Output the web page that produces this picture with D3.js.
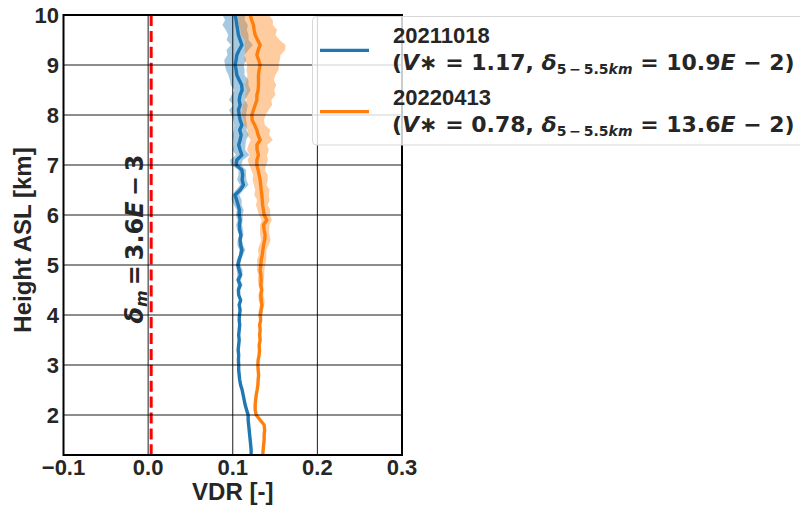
<!DOCTYPE html>
<html><head><meta charset="utf-8">
<script src="https://cdn.jsdelivr.net/npm/d3@7"></script>
<style>body{margin:0;background:#fff}svg{display:block}</style>
</head><body>
<script>
// ---------------- DATA ----------------
const heights = [1.2,1.3,1.4,1.5,1.6,1.7,1.8,1.9,2.0,2.1,
 2.2,2.3,2.4,2.5,2.6,2.7,2.8,2.9,3.0,3.1,
 3.2,3.3,3.4,3.5,3.6,3.7,3.8,3.9,4.0,4.1,
 4.2,4.3,4.4,4.5,4.6,4.7,4.8,4.9,5.0,5.1,
 5.2,5.3,5.4,5.5,5.6,5.7,5.8,5.9,6.0,6.1,
 6.2,6.3,6.4,6.5,6.6,6.7,6.8,6.9,7.0,7.1,
 7.2,7.3,7.4,7.5,7.6,7.7,7.8,7.9,8.0,8.1,
 8.2,8.3,8.4,8.5,8.6,8.7,8.8,8.9,9.0,9.1,
 9.2,9.3,9.4,9.5,9.6,9.7,9.8,9.9,10.0];

const seriesNames = ["20211018", "20220413"];
const vStar = ["1.17", "0.78"];
const delta55 = ["10.9", "13.6"];
const deltaM = "3.6";
const deltaMValue = 0.0036;

const vdr20211018 = [.1217,.1217,.1212,.1206,.1200,.1194,.1188,.1182,.1182,.1164,
 .1147,.1135,.1123,.1111,.1093,.1082,.1076,.1070,.1070,.1067,
 .1070,.1064,.1070,.1076,.1070,.1076,.1082,.1076,.1079,.1087,
 .1076,.1093,.1070,.1067,.1087,.1064,.1093,.1076,.1060,.1076,
 .1093,.1108,.1093,.1087,.1096,.1082,.1079,.1087,.1076,.1079,
 .1064,.1046,.1028,.1087,.1126,.1111,.1117,.1108,.1040,.1048,
 .1108,.1087,.1070,.1087,.1099,.1082,.1108,.1087,.1076,.1067,
 .1087,.1076,.1087,.1111,.1105,.1076,.1048,.1040,.1028,.1040,
 .1048,.1076,.1108,.1087,.1067,.1058,.1048,.1040,.1028];
const lo20211018 = [.001,.001,.001,.001,.001,.001,.001,.001,.001,.001,
 .001,.001,.001,.001,.001,.001,.001,.001,.001,.001,
 .001,.001,.001,.001,.001,.001,.001,.001,.001,.001,
 .001,.001,.001,
 .002,.003,.002,.004,.003,.002,.003,.002,.003,.004,.003,.002,.003,.004,.003,
 .004,.003,.005,.006,.004,.005,.004,.006,.005,.004,
 .006,.008,.007,.009,.006,.008,.010,.007,.009,.008,
 .009,.011,.008,.012,.010,.009,.013,.011,.010,.012,
 .012,.014,.011,.015,.013,.016,.012,.014,.017,.013,.015];
const hi20211018 = [.001,.001,.001,.001,.001,.001,.001,.001,.001,.001,
 .001,.001,.001,.001,.001,.001,.001,.001,.001,.001,
 .001,.001,.001,.001,.001,.001,.001,.001,.001,.001,
 .001,.001,.001,
 .002,.003,.003,.002,.004,.003,.002,.003,.004,.003,.002,.003,.004,.003,.003,
 .004,.005,.004,.006,.005,.004,.006,.005,.004,.005,
 .006,.007,.009,.006,.008,.007,.009,.008,.006,.007,
 .008,.010,.009,.007,.009,.010,.008,.011,.009,.010,
 .010,.012,.009,.011,.013,.010,.012,.011,.013,.010,.012];

const vdr20220413 = [.1356,.1359,.1365,.1371,.1371,.1377,.1371,.1324,.1277,.1265,
 .1265,.1271,.1277,.1288,.1297,.1300,.1306,.1300,.1297,.1300,
 .1312,.1316,.1312,.1324,.1318,.1324,.1318,.1330,.1324,.1336,
 .1344,.1336,.1332,.1342,.1332,.1336,.1332,.1324,.1332,.1336,
 .1348,.1356,.1365,.1377,.1383,.1371,.1363,.1403,.1371,.1363,
 .1353,.1348,.1344,.1336,.1330,.1324,.1312,.1300,.1285,.1285,
 .1304,.1288,.1285,.1324,.1300,.1285,.1259,.1229,.1226,.1245,
 .1265,.1285,.1285,.1300,.1304,.1304,.1304,.1312,.1324,.1306,
 .1285,.1300,.1324,.1294,.1265,.1253,.1245,.1223,.1206];
const lo20220413 = [.001,.001,.001,.001,.001,.001,.001,.001,.001,.001,
 .001,.001,.001,.001,.001,.001,.001,.001,.001,.001,
 .001,.001,.001,.001,.001,.001,.001,.001,
 .002,.003,.002,.003,.003,.002,.003,.004,.003,.004,
 .004,.005,.004,.006,.005,.004,.006,.005,.004,.006,
 .006,.007,.008,.006,.009,.007,.008,.009,.007,.008,
 .009,.011,.010,.012,.010,.011,.013,.011,.012,.010,
 .012,.013,.015,.012,.014,.013,.016,.014,.013,.015,
 .015,.017,.014,.016,.018,.015,.017,.016,.018,.015,.016];
const hi20220413 = [.001,.001,.001,.001,.001,.001,.001,.001,.001,.001,
 .001,.001,.001,.001,.001,.001,.001,.001,.001,.001,
 .001,.001,.001,.001,.001,.001,.001,.001,
 .003,.002,.003,.004,.003,.002,.003,.003,.004,.005,
 .005,.006,.005,.004,.006,.007,.005,.006,.007,.006,
 .007,.008,.006,.009,.008,.010,.007,.009,.010,.008,
 .011,.013,.010,.014,.012,.015,.013,.016,.012,.014,
 .016,.018,.020,.017,.022,.019,.021,.018,.020,.023,
 .022,.025,.028,.032,.030,.026,.024,.027,.023,.025,.022];

const xTicks = [-0.1, 0.0, 0.1, 0.2, 0.3];
const xTickLabels = ["\u22120.1", "0.0", "0.1", "0.2", "0.3"];
const yTicks = [2, 3, 4, 5, 6, 7, 8, 9, 10];
const yTickLabels = ["2", "3", "4", "5", "6", "7", "8", "9", "10"];
const colors = ["#1f77b4", "#ff7f0e"];

// ---------------- CHART ----------------
const W = 800, H = 506;
const m = {left: 63.5, right: 402, top: 15, bottom: 455};
const svg = d3.select("body").append("svg").attr("width", W).attr("height", H);

const x = d3.scaleLinear().domain([-0.1, 0.3]).range([m.left, m.right]);
const y = d3.scaleLinear().domain([1.2, 10]).range([m.bottom, m.top]);

const series = [
  {name: seriesNames[0], v: vdr20211018, lo: lo20211018, hi: hi20211018, c: colors[0]},
  {name: seriesNames[1], v: vdr20220413, lo: lo20220413, hi: hi20220413, c: colors[1]}
];

svg.append("defs").append("clipPath").attr("id", "clip")
  .append("rect").attr("x", m.left).attr("y", m.top)
  .attr("width", m.right - m.left).attr("height", m.bottom - m.top);

const plot = svg.append("g").attr("clip-path", "url(#clip)");

// bands
series.forEach(s => {
  const area = d3.area()
    .y((d, i) => y(heights[i]))
    .x0((d, i) => x(s.v[i] - s.lo[i]))
    .x1((d, i) => x(s.v[i] + s.hi[i]));
  plot.append("path").datum(heights).attr("d", area)
    .attr("fill", s.c).attr("fill-opacity", 0.4).attr("stroke", "none");
});

// grid
const grid = svg.append("g");
xTicks.slice(1, 4).forEach(t => grid.append("line")
  .attr("x1", x(t)).attr("x2", x(t)).attr("y1", m.top).attr("y2", m.bottom)
  .attr("stroke", "#000").attr("stroke-width", 0.9));
yTicks.slice(0, -1).forEach(t => grid.append("line")
  .attr("x1", m.left).attr("x2", m.right).attr("y1", y(t)).attr("y2", y(t))
  .attr("stroke", "#000").attr("stroke-width", 0.9));

// lines
series.forEach(s => {
  const line = d3.line().y((d, i) => y(heights[i])).x((d, i) => x(s.v[i]));
  plot.append("path").datum(heights).attr("d", line)
    .attr("fill", "none").attr("stroke", s.c).attr("stroke-width", 3.4)
    .attr("stroke-linejoin", "round");
});

// red dashed line
plot.append("line")
  .attr("x1", x(deltaMValue)).attr("x2", x(deltaMValue))
  .attr("y1", m.top).attr("y2", m.bottom)
  .attr("stroke", "#ff0000").attr("stroke-width", 3)
  .attr("stroke-dasharray", "11.1,4.8");

// spines
svg.append("rect").attr("x", m.left).attr("y", m.top)
  .attr("width", m.right - m.left).attr("height", m.bottom - m.top)
  .attr("fill", "none").attr("stroke", "#000").attr("stroke-width", 2);

const txtColor = "#262626";
const sans = "'Liberation Sans', Arial, sans-serif";
const math = "'DejaVu Sans', sans-serif";

// ticks labels
xTicks.forEach((t, i) => svg.append("text")
  .attr("x", x(t)).attr("y", 475).attr("text-anchor", "middle")
  .attr("font-family", sans).attr("font-weight", "bold").attr("font-size", 22)
  .attr("fill", txtColor).text(xTickLabels[i]));
yTicks.forEach((t, i) => svg.append("text")
  .attr("x", 59).attr("y", y(t)).attr("dy", "0.36em").attr("text-anchor", "end")
  .attr("font-family", sans).attr("font-weight", "bold").attr("font-size", 22)
  .attr("fill", txtColor).text(yTickLabels[i]));

// axis labels
svg.append("text").attr("x", x(0.1)).attr("y", 500).attr("text-anchor", "middle")
  .attr("font-family", sans).attr("font-weight", "bold").attr("font-size", 24)
  .attr("fill", txtColor).text("VDR [-]");
svg.append("text").attr("transform", `translate(31,${(m.top + m.bottom) / 2 + 5}) rotate(-90)`)
  .attr("text-anchor", "middle")
  .attr("font-family", sans).attr("font-weight", "bold").attr("font-size", 24)
  .attr("fill", txtColor).text("Height ASL [km]");

// math-like text helper
function mathText(sel, parts) {
  parts.forEach(p => {
    const t = sel.append("tspan").text(p.t);
    if (p.it) t.attr("font-style", "italic");
    if (p.size) t.attr("font-size", p.size);
    if (p.dy) t.attr("dy", p.dy);
    if (p.dx) t.attr("dx", p.dx);
  });
}
// delta_m label (rotated)
const dm = svg.append("text")
  .attr("transform", `translate(143,239) rotate(-90)`)
  .attr("text-anchor", "middle")
  .attr("font-family", math).attr("font-weight", "bold").attr("font-size", 24)
  .attr("fill", txtColor);
mathText(dm, [
  {t: "\u03b4", it: true},
  {t: "m", it: true, size: 16, dy: 4},
  {t: "=", dy: -4, dx: 5},
  {t: deltaM, dx: 5},
  {t: "E", it: true},
  {t: "\u2212", dx: 5},
  {t: "3", dx: 5}
]);

// legend
const lg = svg.append("g");
lg.append("rect").attr("x", 312.5).attr("y", 16.5).attr("width", 520).attr("height", 128.5)
  .attr("rx", 4).attr("fill", "#fff").attr("fill-opacity", 0.8)
  .attr("stroke", "#d8d8d8").attr("stroke-width", 1);
const lgY = [50.3, 111.7];
series.forEach((s, i) => {
  lg.append("line").attr("x1", 320).attr("x2", 369).attr("y1", lgY[i]).attr("y2", lgY[i])
    .attr("stroke", s.c).attr("stroke-width", 3.2);
  lg.append("text").attr("x", 393).attr("y", lgY[i] - 7)
    .attr("font-family", sans).attr("font-weight", "bold").attr("font-size", 22)
    .attr("fill", txtColor).text(s.name);
  const mt = lg.append("text").attr("x", 392).attr("y", lgY[i] + 20)
    .attr("font-family", math).attr("font-weight", "bold").attr("font-size", 22)
    .attr("fill", txtColor);
  mathText(mt, [
    {t: "("},
    {t: "V", it: true},
    {t: "\u2217 = " + vStar[i] + ", "},
    {t: "\u03b4", it: true},
    {t: "5\u2009\u2212\u20095.5", size: 14, dy: 4},
    {t: "km", it: true, size: 14},
    {t: " = " + delta55[i], dy: -4},
    {t: "E", it: true},
    {t: " \u2212 2)"}
  ]);
});
</script>
</body></html>
